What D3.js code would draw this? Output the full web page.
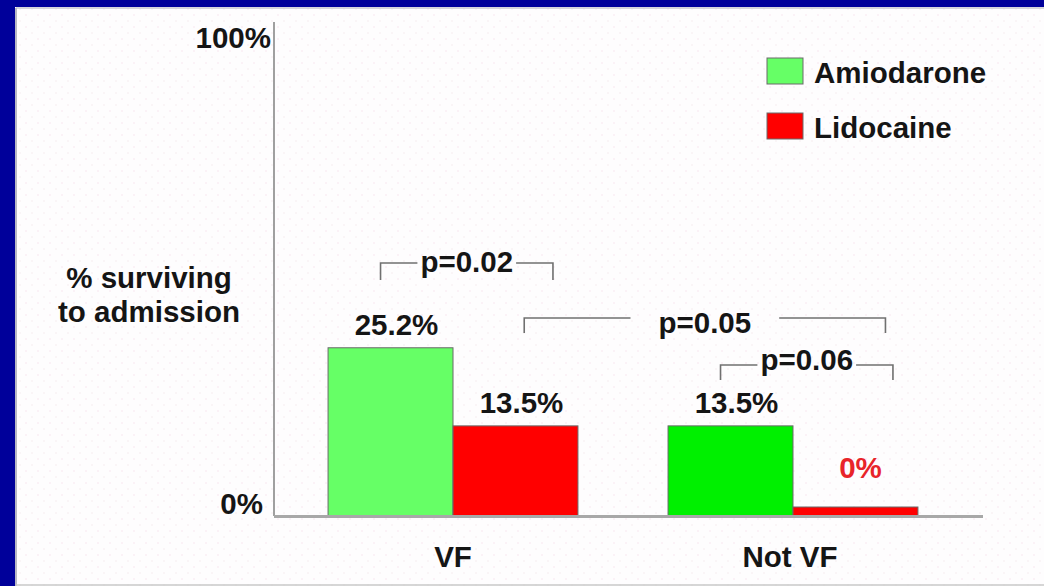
<!DOCTYPE html>
<html>
<head>
<meta charset="utf-8">
<script src="https://cdn.jsdelivr.net/npm/d3@7"></script>
<style>
  html, body { margin: 0; padding: 0; background: #ffffff; }
  svg { display: block; }
  text { font-family: "Liberation Sans", Arial, sans-serif; font-weight: bold; fill: #151515; }
</style>
</head>
<body>
<script>
// ---- data ----
const categories = ["VF", "Not VF"];
const series = ["Amiodarone", "Lidocaine"];
const amiodarone = [25.2, 13.5];
const lidocaine = [13.5, 0];
const axisEndLabels = ["0%", "100%"];
const yTitle = ["% surviving", "to admission"];
const comparisons = [
  { from: ["VF", "Amiodarone"], to: ["VF", "Lidocaine"], label: "p=0.02" },
  { from: ["VF", "Lidocaine"], to: ["Not VF", "Lidocaine"], label: "p=0.05" },
  { from: ["Not VF", "Amiodarone"], to: ["Not VF", "Lidocaine"], label: "p=0.06" }
];

// ---- styling / layout ----
const W = 1044, H = 586;
const plot = { left: 274, right: 983, top: 22, bottom: 516 };
const fills = {
  "Amiodarone": { "VF": "#66ff66", "Not VF": "#00f000" },
  "Lidocaine": { "VF": "#ff0000", "Not VF": "#ff0000" }
};
const legendFill = { "Amiodarone": "#66ff66", "Lidocaine": "#ff0000" };
const bracketLayout = [
  { fa: 0.42, fb: 0.80, top: 263, drop: 17, gap: 3, dy: 9 },
  { fa: 0.57, fb: 0.74, top: 318, drop: 15, gap: 28, dy: 15 },
  { fa: 0.42, fb: 0.80, top: 365, drop: 15, gap: 3, dy: 5 }
];
const FONT = 29.5;
const minBarPx = 9;

const values = { "Amiodarone": amiodarone, "Lidocaine": lidocaine };
const rows = [];
categories.forEach((c, i) => series.forEach(s => rows.push({ cat: c, ser: s, v: values[s][i] })));

const svg = d3.select("body").append("svg").attr("width", W).attr("height", H);

// slide background with a faint dotted texture
const defs = svg.append("defs");
const pat = defs.append("pattern").attr("id", "dots").attr("width", 12).attr("height", 12)
  .attr("patternUnits", "userSpaceOnUse");
pat.append("rect").attr("width", 12).attr("height", 12).attr("fill", "#fefdfe");
pat.append("circle").attr("cx", 2).attr("cy", 3).attr("r", 0.8).attr("fill", "#f8e4ee");
pat.append("circle").attr("cx", 8).attr("cy", 9).attr("r", 0.8).attr("fill", "#f5ebf0");
svg.append("rect").attr("width", W).attr("height", H).attr("fill", "url(#dots)");

// navy frame on the left and top
svg.append("rect").attr("x", 0).attr("y", 0).attr("width", W).attr("height", 7).attr("fill", "#00009a");
svg.append("rect").attr("x", 0).attr("y", 0).attr("width", 15).attr("height", H).attr("fill", "#00009a");
svg.append("line").attr("x1", 16).attr("x2", W).attr("y1", 8).attr("y2", 8).attr("stroke", "#c8c8d0").attr("stroke-width", 1.5);
svg.append("line").attr("x1", 16).attr("x2", 16).attr("y1", 8).attr("y2", H).attr("stroke", "#b8b8c4").attr("stroke-width", 2);
svg.append("line").attr("x1", 16).attr("x2", W).attr("y1", H - 1).attr("y2", H - 1).attr("stroke", "#c8c8c8").attr("stroke-width", 1.5);

// ---- scales ----
const y = d3.scaleLinear().domain([0, 74]).range([plot.bottom, plot.top]);
const x0 = d3.scaleBand().domain(categories).range([plot.left, 972])
  .paddingInner(0.265).paddingOuter(0.159);
const x1 = d3.scaleBand().domain(series).range([0, x0.bandwidth()]).padding(0);
const barX = (c, s) => x0(c) + x1(s);
const barTop = v => Math.min(y(v), plot.bottom - minBarPx);

// ---- axes ----
svg.append("line").attr("x1", plot.left).attr("x2", plot.left).attr("y1", plot.top).attr("y2", plot.bottom)
  .attr("stroke", "#a0a0a0").attr("stroke-width", 2);

// ---- bars ----
svg.append("g").selectAll("rect").data(rows).join("rect")
  .attr("x", d => barX(d.cat, d.ser))
  .attr("y", d => barTop(d.v))
  .attr("width", x1.bandwidth())
  .attr("height", d => plot.bottom - barTop(d.v))
  .attr("fill", d => fills[d.ser][d.cat])
  .attr("stroke", "#6a6a6a").attr("stroke-width", 1);

svg.append("line").attr("x1", plot.left).attr("x2", plot.right).attr("y1", plot.bottom + 0.5).attr("y2", plot.bottom + 0.5)
  .attr("stroke", "#a8a8a8").attr("stroke-width", 3);

// axis end labels
svg.append("text").attr("x", 271).attr("y", y.range()[1] + 26).attr("text-anchor", "end")
  .attr("font-size", FONT).text(axisEndLabels[1]);
svg.append("text").attr("x", 263).attr("y", y.range()[0] - 2).attr("text-anchor", "end")
  .attr("font-size", FONT).text(axisEndLabels[0]);

// y title
svg.append("text").attr("x", 149).attr("y", 288).attr("text-anchor", "middle").attr("font-size", FONT)
  .selectAll("tspan").data(yTitle).join("tspan")
  .attr("x", 149).attr("dy", (d, i) => i ? 34 : 0).text(d => d);

// category labels
svg.append("g").selectAll("text").data(categories).join("text")
  .attr("x", (c, i) => x0(c) + x0.bandwidth() / 2 - (i ? 3 : 0))
  .attr("y", 567).attr("text-anchor", "middle").attr("font-size", FONT).text(c => c);

// value labels
svg.append("g").selectAll("text").data(rows).join("text")
  .attr("x", d => barX(d.cat, d.ser) + x1.bandwidth() / 2 + (d.v === 0 ? 5 : 6))
  .attr("y", d => d.v === 0 ? barTop(d.v) - 29 : y(d.v) - 13)
  .attr("text-anchor", "middle").attr("font-size", FONT)
  .style("fill", d => d.v === 0 ? "#e8242a" : null)
  .text(d => d.v + "%");

// significance brackets
comparisons.forEach((cmp, i) => {
  const L = bracketLayout[i];
  const xa = barX(cmp.from[0], cmp.from[1]) + x1.bandwidth() * L.fa;
  const xb = barX(cmp.to[0], cmp.to[1]) + x1.bandwidth() * L.fb;
  const mid = (xa + xb) / 2;
  const g = svg.append("g");
  const t = g.append("text").attr("x", mid).attr("y", L.top + L.dy)
    .attr("text-anchor", "middle").attr("font-size", FONT).text(cmp.label);
  const tw = t.node().getComputedTextLength();
  [[xa, mid - tw / 2 - L.gap], [xb, mid + tw / 2 + L.gap]].forEach(([xe, xi]) => {
    g.append("path")
      .attr("d", `M${xe},${L.top + L.drop}V${L.top}H${xi}`)
      .attr("stroke", "#707070").attr("stroke-width", 1.6).attr("fill", "none");
  });
});

// legend
const legend = svg.append("g").selectAll("g").data(series).join("g")
  .attr("transform", (s, i) => `translate(767, ${58 + i * 55})`);
legend.append("rect").attr("width", 36).attr("height", 26)
  .attr("fill", s => legendFill[s]).attr("stroke", "#6a6a6a").attr("stroke-width", 1);
legend.append("text").attr("x", 47).attr("y", 25).attr("font-size", FONT).text(s => s);
</script>
</body>
</html>
